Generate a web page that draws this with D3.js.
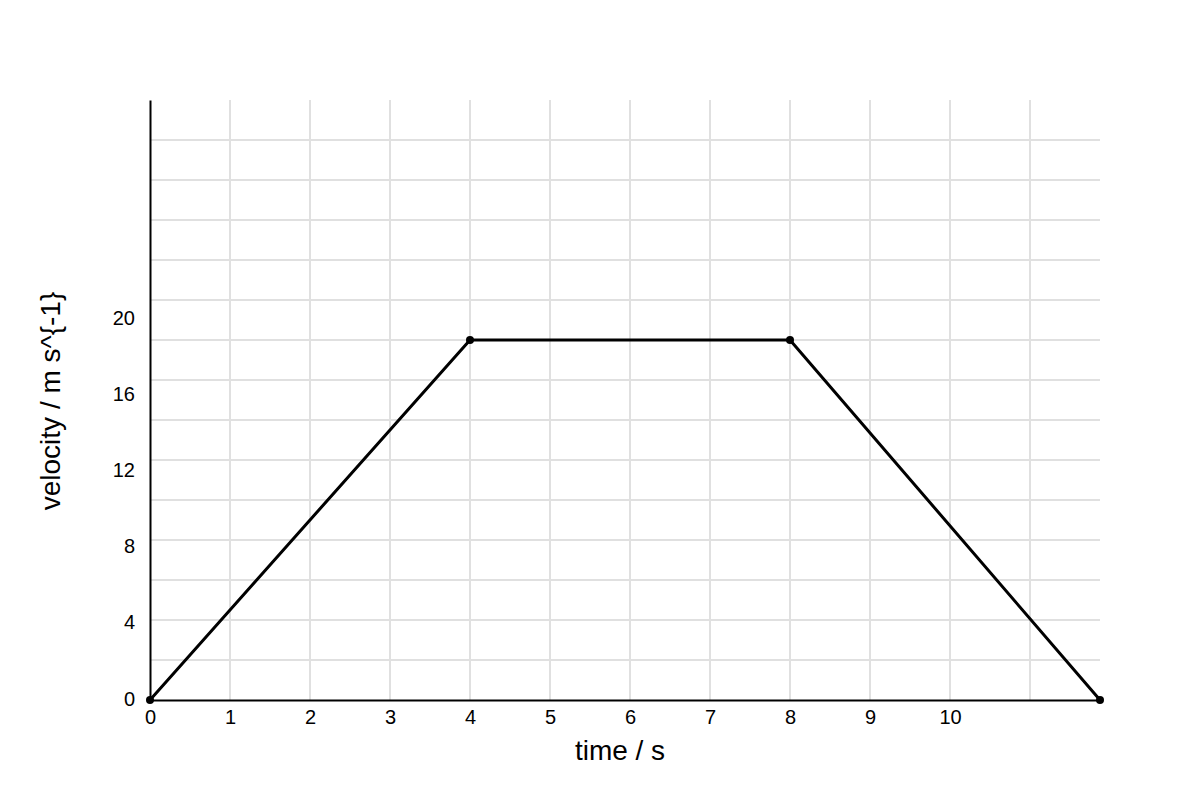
<!DOCTYPE html>
<html>
<head>
<meta charset="utf-8">
<script src="https://cdn.jsdelivr.net/npm/d3@7"></script>
<style>
  body { margin: 0; background: #fff; }
  text { font-family: "Liberation Sans", Arial, sans-serif; }
</style>
</head>
<body>
<div id="chart"></div>
<script>
// velocity-time data
var times = [0, 4, 8, 11.875]
var velocities = [0, 18.9, 18.9, 0]
var xTickValues = [0, 1, 2, 3, 4, 5, 6, 7, 8, 9, 10]
var yTickValues = [0, 4, 8, 12, 16, 20]
var xGridValues = [1, 2, 3, 4, 5, 6, 7, 8, 9, 10, 11]
var yGridValues = [2.1, 4.2, 6.3, 8.4, 10.5, 12.6, 14.7, 16.8, 18.9, 21, 23.1, 25.2, 27.3, 29.4]

var width = 1200, height = 800
var margin = { top: 100, right: 100, bottom: 100, left: 150 }

var svg = d3.select("#chart").append("svg")
    .attr("width", width)
    .attr("height", height)

var x = d3.scaleLinear()
    .domain([0, 11.875])
    .range([margin.left, width - margin.right])

var y = d3.scaleLinear()
    .domain([0, 31.5])
    .range([height - margin.bottom, margin.top])

// grid
svg.append("g").selectAll("line")
    .data(xGridValues)
    .enter().append("line")
    .attr("x1", d => x(d)).attr("x2", d => x(d))
    .attr("y1", y(0)).attr("y2", y(31.5))
    .attr("stroke", "#e0e0e0")
    .attr("stroke-width", 2)

svg.append("g").selectAll("line")
    .data(yGridValues)
    .enter().append("line")
    .attr("x1", x(0)).attr("x2", x(11.875))
    .attr("y1", d => y(d)).attr("y2", d => y(d))
    .attr("stroke", "#e0e0e0")
    .attr("stroke-width", 2)

// axes
var xAxis = svg.append("g")
    .attr("transform", `translate(0,${y(0)})`)
    .call(d3.axisBottom(x).tickValues(xTickValues).tickSize(0).tickPadding(10))
xAxis.select(".domain").attr("stroke", "#000").attr("stroke-width", 2)
xAxis.selectAll("text").attr("font-size", 20).attr("fill", "#000")

var yAxis = svg.append("g")
    .attr("transform", `translate(${x(0)},0)`)
    .call(d3.axisLeft(y).tickValues(yTickValues).tickSize(0).tickPadding(15))
yAxis.select(".domain").attr("stroke", "#000").attr("stroke-width", 2)
yAxis.selectAll("text").attr("font-size", 20).attr("fill", "#000").attr("dy", "0.25em")

// line
var points = times.map((t, i) => ({ t: t, v: velocities[i] }))

svg.append("path")
    .datum(points)
    .attr("fill", "none")
    .attr("stroke", "#000")
    .attr("stroke-width", 3)
    .attr("d", d3.line().x(d => x(d.t)).y(d => y(d.v)))

svg.selectAll(".dot")
    .data(points)
    .enter().append("circle")
    .attr("class", "dot")
    .attr("cx", d => x(d.t))
    .attr("cy", d => y(d.v))
    .attr("r", 4)
    .attr("fill", "#000")

// axis titles
svg.append("text")
    .attr("x", 620)
    .attr("y", 760)
    .attr("text-anchor", "middle")
    .attr("font-size", 28)
    .attr("fill", "#000")
    .text("time / s")

svg.append("text")
    .attr("transform", "translate(60,401) rotate(-90)")
    .attr("text-anchor", "middle")
    .attr("font-size", 28)
    .attr("fill", "#000")
    .text("velocity / m s^{-1}")
</script>
</body>
</html>
